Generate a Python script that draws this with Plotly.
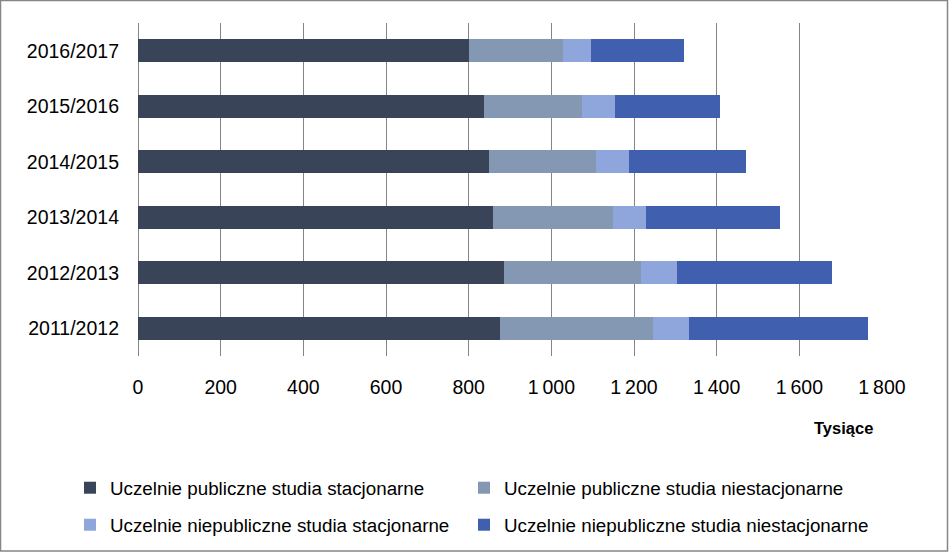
import plotly.graph_objects as go

categories = ["2011/2012", "2012/2013", "2013/2014", "2014/2015", "2015/2016", "2016/2017"]
series_names = [
    "Uczelnie publiczne studia stacjonarne",
    "Uczelnie publiczne studia niestacjonarne",
    "Uczelnie niepubliczne studia stacjonarne",
    "Uczelnie niepubliczne studia niestacjonarne",
]
pub_stac = [877, 886, 860, 850, 838, 800]
pub_niestac = [369, 332, 289, 258, 237, 228]
niepub_stac = [88, 85, 81, 81, 80, 67]
niepub_niestac = [432, 376, 323, 282, 254, 227]
tick_vals = [0, 200, 400, 600, 800, 1000, 1200, 1400, 1600, 1800]
tick_text = ["0", "200", "400", "600", "800", "1\u2009000", "1\u2009200", "1\u2009400", "1\u2009600", "1\u2009800"]
axis_unit = "Tysiące"

colors = ["#3A4459", "#8497B3", "#8FA6DC", "#405FAE"]
values = [pub_stac, pub_niestac, niepub_stac, niepub_niestac]
legend_ids = ["legend", "legend2", "legend3", "legend4"]

W, H = 949, 554
L, R, T, B = 138, 67, 23, 197
pw, ph = W - L - R, H - T - B

def px_x(p):
    return (p - L) / pw

def px_y(p):
    return (H - B - p) / ph

FONT = "Liberation Sans"

fig = go.Figure()
for name, vals, col, lg in zip(series_names, values, colors, legend_ids):
    fig.add_trace(go.Bar(
        y=categories, x=vals, name=name, orientation="h",
        marker=dict(color=col, line=dict(width=0)),
        legend=lg,
    ))

legend_common = dict(
    orientation="h", xanchor="left", yanchor="middle",
    font=dict(family=FONT, size=18.8, color="#000000"),
    itemwidth=30, bgcolor="rgba(0,0,0,0)",
)
leg_pos = [(70, 488), (464, 488), (70, 525), (464, 525)]

layout_legends = {}
for lg, (lx, ly) in zip(legend_ids, leg_pos):
    layout_legends[lg] = dict(x=px_x(lx), y=px_y(ly), **legend_common)

fig.update_layout(
    width=W, height=H,
    margin=dict(l=L, r=R, t=T, b=B, pad=0),
    paper_bgcolor="#FFFFFF", plot_bgcolor="#FFFFFF",
    barmode="stack", bargap=0.586,
    showlegend=True,
    **layout_legends,
    xaxis=dict(
        range=[0, 1800], tickvals=tick_vals, ticktext=tick_text,
        showgrid=True, gridcolor="#868686", gridwidth=1,
        zeroline=True, zerolinecolor="#868686", zerolinewidth=1,
        showline=False, ticks="", ticklabelstandoff=17,
        tickfont=dict(family=FONT, size=19.5, color="#000000"),
        fixedrange=True,
    ),
    yaxis=dict(
        categoryorder="array", categoryarray=categories,
        showgrid=False, zeroline=False, showline=False, ticks="",
        ticklabelstandoff=18,
        tickfont=dict(family=FONT, size=19.5, color="#000000"),
        fixedrange=True,
    ),
    annotations=[dict(
        text="<b>" + axis_unit + "</b>", xref="paper", yref="paper",
        x=px_x(875), y=px_y(429), xanchor="right", yanchor="middle",
        showarrow=False, font=dict(family=FONT, size=16.5, color="#000000"),
    )],
    shapes=[dict(
        type="rect", xref="paper", yref="paper",
        x0=px_x(0.5), x1=px_x(W - 1.5), y0=px_y(H - 1.5), y1=px_y(0.5),
        line=dict(color="#868686", width=1.5), fillcolor="rgba(0,0,0,0)",
        layer="below",
    )],
)

fig.write_html(
    "out.html",
    config={"displayModeBar": False},
    post_script="document.body.style.margin='0';document.body.style.overflow='hidden';",
)
